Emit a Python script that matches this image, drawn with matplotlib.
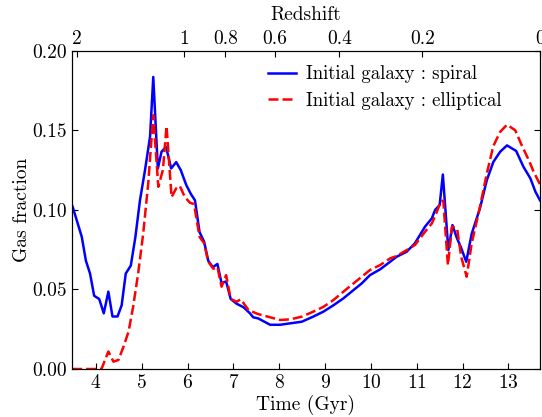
import numpy as np
import matplotlib
matplotlib.use("Agg")
import matplotlib.pyplot as plt

plt.rcParams["font.family"] = "serif"
plt.rcParams["font.serif"] = ["cmr10", "DejaVu Serif"]
plt.rcParams["mathtext.fontset"] = "cm"
plt.rcParams["axes.formatter.use_mathtext"] = True

# spiral progenitor
t_spiral = [3.49, 3.69, 3.78, 3.87, 3.96, 4.07, 4.17, 4.27, 4.36, 4.47, 4.56, 4.65,
            4.76, 4.86, 4.96, 5.07, 5.18, 5.25, 5.35, 5.43, 5.53, 5.64, 5.75, 5.85,
            5.97, 6.07, 6.16, 6.26, 6.36, 6.45, 6.55, 6.65, 6.74, 6.84, 6.94, 7.07,
            7.22, 7.36, 7.43, 7.54, 7.80, 8.02, 8.24, 8.49, 8.74, 8.96, 9.18, 9.40,
            9.62, 9.80, 9.98, 10.20, 10.42, 10.56, 10.78, 10.96, 11.18, 11.33, 11.40,
            11.50, 11.57, 11.69, 11.78, 11.88, 11.96, 12.08, 12.20, 12.38, 12.53,
            12.67, 12.82, 12.97, 13.17, 13.33, 13.48, 13.59, 13.69]
gas_spiral = [0.102, 0.083, 0.068, 0.060, 0.046, 0.044, 0.035, 0.0486, 0.033, 0.033,
              0.040, 0.060, 0.065, 0.083, 0.106, 0.125, 0.146, 0.1835, 0.126, 0.1365,
              0.1396, 0.126, 0.130, 0.125, 0.1156, 0.110, 0.106, 0.086, 0.080, 0.068,
              0.064, 0.066, 0.054, 0.055, 0.044, 0.041, 0.0388, 0.035, 0.0325, 0.0318,
              0.0278, 0.0278, 0.0287, 0.0297, 0.0329, 0.036, 0.040, 0.0444, 0.0496,
              0.0538, 0.059, 0.0626, 0.0674, 0.0705, 0.0737, 0.079, 0.0894, 0.0947,
              0.0999, 0.103, 0.1222, 0.0747, 0.0904, 0.082, 0.0768, 0.0674, 0.085,
              0.101, 0.1187, 0.130, 0.1365, 0.1405, 0.137, 0.127, 0.1198, 0.1114, 0.106]

# elliptical progenitor
t_ellip = [3.48, 4.12, 4.27, 4.38, 4.49, 4.60, 4.71, 4.81, 4.92, 5.03, 5.14, 5.25,
           5.36, 5.46, 5.54, 5.65, 5.75, 5.83, 5.94, 6.05, 6.14, 6.26, 6.36, 6.45,
           6.56, 6.65, 6.74, 6.84, 6.94, 7.07, 7.16, 7.33, 7.54, 7.80, 8.02, 8.24,
           8.49, 8.74, 8.96, 9.18, 9.40, 9.62, 9.80, 9.98, 10.20, 10.42, 10.56, 10.78,
           10.96, 11.18, 11.33, 11.44, 11.53, 11.58, 11.68, 11.77, 11.88, 11.97, 12.09,
           12.20, 12.38, 12.53, 12.67, 12.82, 12.97, 13.15, 13.30, 13.45, 13.55, 13.69]
gas_ellip = [0.0, 0.0, 0.011, 0.0046, 0.0057, 0.014, 0.0234, 0.039, 0.060, 0.085,
             0.1166, 0.1595, 0.1145, 0.125, 0.1526, 0.108, 0.1135, 0.115, 0.108, 0.1045,
             0.1036, 0.083, 0.079, 0.0674, 0.063, 0.064, 0.0517, 0.059, 0.044, 0.0423,
             0.0438, 0.037, 0.0345, 0.0325, 0.0308, 0.0312, 0.0329, 0.036, 0.039, 0.0433,
             0.0486, 0.0538, 0.058, 0.0622, 0.0653, 0.0695, 0.071, 0.0747, 0.0779, 0.0862,
             0.0915, 0.0988, 0.1057, 0.1057, 0.0653, 0.0894, 0.0884, 0.0705, 0.058, 0.079,
             0.102, 0.1229, 0.140, 0.149, 0.1535, 0.150, 0.140, 0.131, 0.124, 0.116]

# top axis: redshift labels and the cosmic time they sit at
z_labels = ["2", "1", "0.8", "0.6", "0.4", "0.2", "0"]
z_times = [3.58, 5.92, 6.82, 7.91, 9.31, 11.12, 13.69]

fig = plt.figure(figsize=(5.42, 4.17), dpi=100)
ax = fig.add_axes([0.1328, 0.1151, 0.8635, 0.7633])

ax.plot(t_spiral, gas_spiral, "-", color="blue", linewidth=1.8,
        label="Initial galaxy : spiral")
ax.plot(t_ellip, gas_ellip, "--", color="red", linewidth=1.8, dashes=(4, 1.6),
        label="Initial galaxy : elliptical")

ax.set_xlim(3.476, 13.69)
ax.set_ylim(0, 0.2)
ax.set_xticks(range(4, 14))
ax.set_yticks([0.0, 0.05, 0.10, 0.15, 0.20])
ax.set_yticklabels(["0.00", "0.05", "0.10", "0.15", "0.20"])
ax.tick_params(direction="in", length=4, labelsize=14, right=True, top=False)
ax.set_xlabel("Time (Gyr)", fontsize=14, labelpad=2)
ax.set_ylabel("Gas fraction", fontsize=14, labelpad=1)

ax2 = ax.twiny()
ax2.set_xlim(ax.get_xlim())
ax2.set_xticks(z_times)
ax2.set_xticklabels(z_labels)
ax2.tick_params(direction="in", length=4, labelsize=14, pad=2)
ax2.set_xlabel("Redshift", fontsize=14, labelpad=7)

ax.legend(loc="upper right", bbox_to_anchor=(0.945, 0.995), frameon=False,
          fontsize=13.5, handlelength=1.5, handletextpad=0.5,
          borderaxespad=0.3, labelspacing=0.45)

fig.savefig("out.png", dpi=100)
plt.close(fig)
